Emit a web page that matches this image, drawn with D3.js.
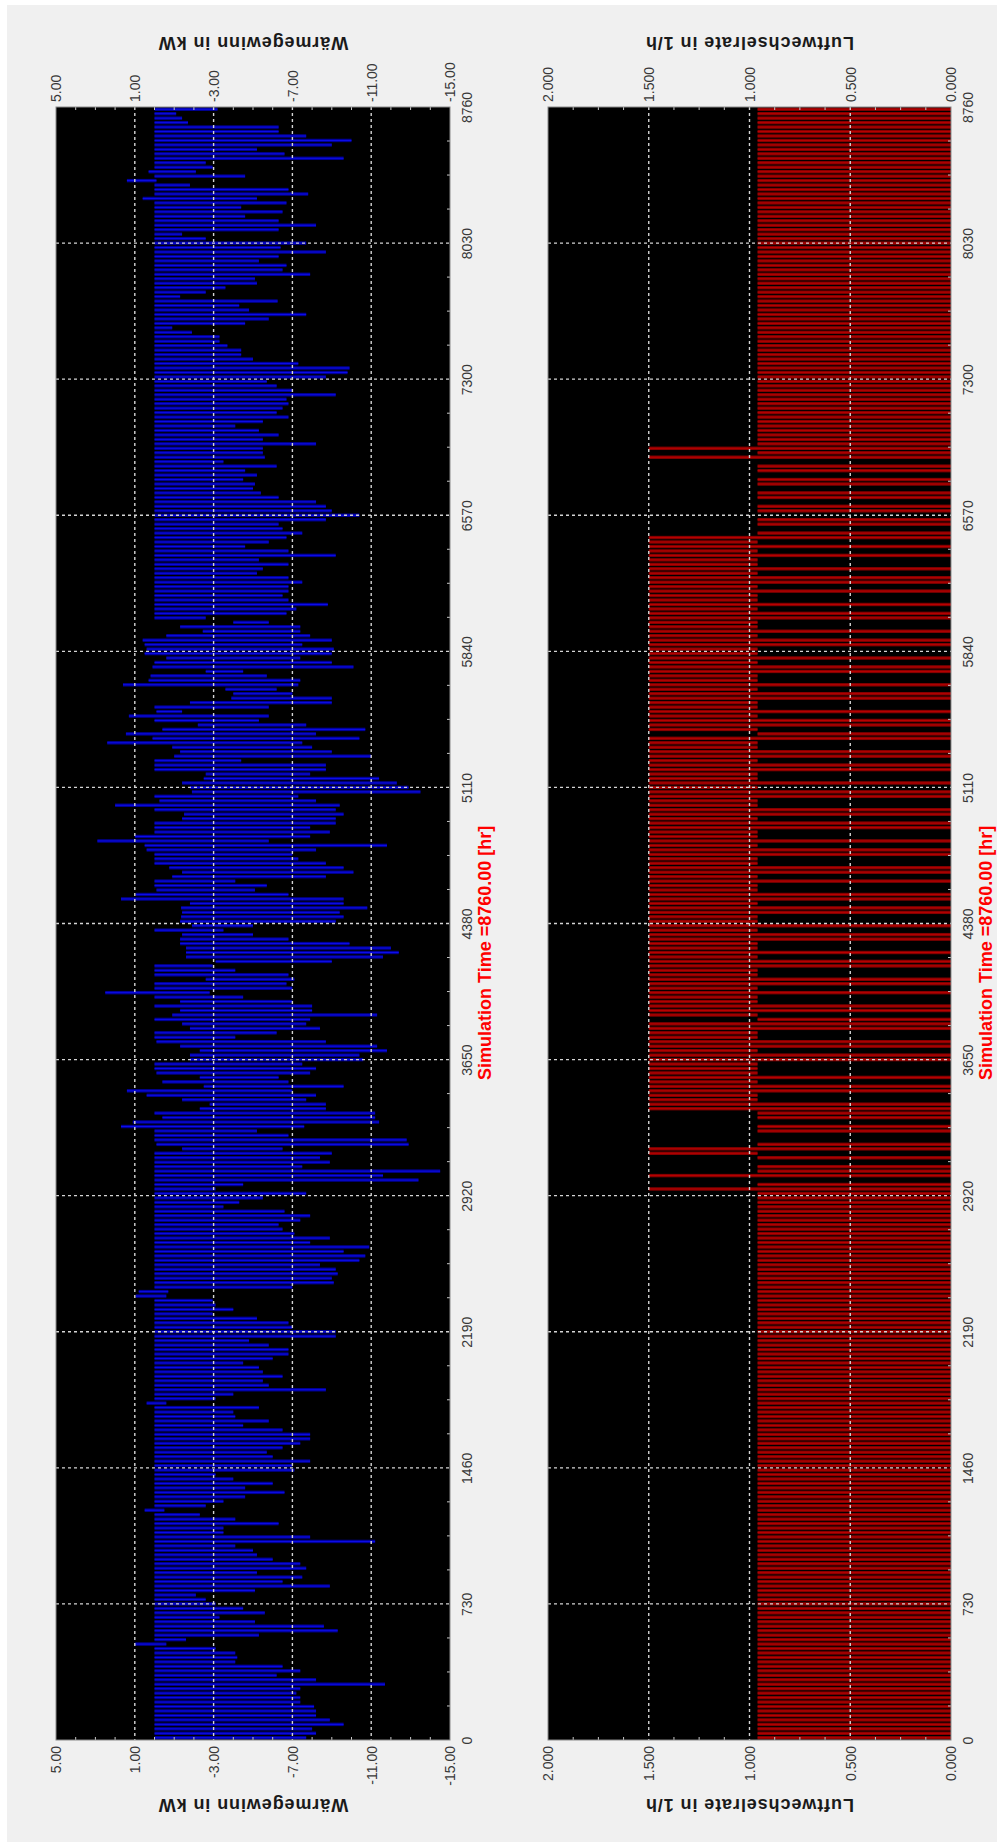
<!DOCTYPE html>
<html>
<head>
<meta charset="utf-8">
<script src="https://cdn.jsdelivr.net/npm/d3@7"></script>
<style>
  body { margin: 0; background: #fff; }
</style>
</head>
<body>
<div id="chart"></div>
<script>
// Achsen
const zeitTicks = [0, 730, 1460, 2190, 2920, 3650, 4380, 5110, 5840, 6570, 7300, 8030, 8760];
const waermeTicks = [5, 1, -3, -7, -11, -15];
const lwrTicks = [2, 1.5, 1, 0.5, 0];

// Wärmegewinn in kW, Tagesspanne (oberer / unterer Wert), je Quartal
const waermeMaxQ1 = [
  0,0,0,0,0,0,0,0,0,0, 0,0,0,0,0,0,0,0,0,0, 0,1.0,0,0,0,0,0,0,0,0,
  0,0,0,0,0,0,0,0,0,0, 0,0,0,0,0,0,0,0,0,0, 0,0.5,0,0,0,0,0,0,0,0,
  0,0,0,0,0,0,0,0,0,0, 0,0,0,0,0,0.4,0,0,0,0, 0,0,0,0,0,0,0,0,0,0, 0
];
const waermeMinQ1 = [
  -7.7,-8.2,-8.0,-9.6,-8.9,-8.2,-8.2,-8.1,-7.4,-7.4,
  -7.2,-7.4,-11.7,-8.2,-6.2,-7.4,-6.5,-4.1,-4.2,-4.1,
  -3.1,-0.6,-1.6,-5.3,-9.3,-8.6,-5.1,-3.3,-5.6,-4.5,
  -3.1,-2.6,-2.1,-5.1,-8.9,-6.5,-7.5,-5.2,-7.7,-7.4,
  -6.0,-5.2,-5.0,-4.1,-11.2,-7.9,-3.5,-3.5,-6.3,-4.1,
  -2.3,-0.5,-2.6,-3.5,-4.6,-6.6,-4.6,-6.0,-4.0,-3.1,
  -7.1,-7.0,-7.9,-6.0,-5.7,-6.5,-7.4,-7.9,-7.9,-6.5,
  -4.5,-5.8,-4.1,-4.0,-5.3,-0.6,-3.1,-4.0,-8.7,-5.8,
  -5.5,-6.5,-5.5,-5.3,-4.5,-6.0,-6.8,-6.8,-5.8,-4.8,
  -9.2
];
const waermeMaxQ2 = [
  0,0,0,0,0,0,0,0,0.95,0.8,
  0,0,0,0,0,0,0,0,0,0,
  0,0,0,0,0,0,0,0,0,0,
  0,0,0,0,0,0,0,0,0,0,
  0,-1.4,-0.1,0,0,0,1.7,1.1,-0.4,0,
  -2.3,-2.8,-1.4,0.4,1.4,-2.5,-0.4,-2.3,-0.1,0,
  0,-1.8,-1.8,-2.3,-1.3,-0.1,0,0,-1.8,-1.4,
  0,-0.9,-1.3,0,-1.3,0,2.5,0,0,-2.6,
  0,0,0,-3.1,-1.6,-1.6,-1.6,-1.3,-1.3,-1.4,
  0
];
const waermeMinQ2 = [
  -9.2,-7.0,-6.8,-5.2,-2.95,-4.0,-3.1,-2.95,-0.6,-0.7,
  -7.0,-9.1,-9.0,-9.3,-9.2,-8.4,-10.4,-10.7,-9.6,-10.9,
  -7.9,-8.9,-7.1,-6.5,-6.3,-7.4,-7.9,-6.6,-3.5,-4.3,
  -5.5,-7.7,-3.1,-4.5,-13.4,-11.6,-14.5,-7.5,-8.9,-8.4,
  -9.0,-6.5,-12.9,-12.8,-6.8,-5.2,-7.6,-11.4,-11.2,-11.2,
  -8.7,-8.7,-7.7,-8.2,-7.0,-9.6,-6.8,-6.3,-7.9,-8.2,
  -7.5,-10.6,-10.4,-11.8,-11.3,-8.7,-4.1,-6.2,-8.4,-7.7,
  -7.9,-11.3,-8.0,-8.0,-7.0,-4.5,-2.8,-7.0,-6.7,-7.1,
  -6.8,-4.1,-2.95,-9.0,-11.6,-12.4,-12.0,-9.9,-6.8,-5.0,
  -3.5
];
const waermeMaxQ3 = [
  -1.9,-1.3,-1.35,-1.4,-1.35,-1.8,1.7,0.95,-0.1,0,
  0,-0.9,-1.4,-0.75,0,0,0,0.4,0.5,2.9,
  1.0,0,0,0,-1.4,-1.5,0,2.0,-0.25,0,
  -1.9,-1.8,-1.4,-2.5,-2.6,0,0,0,-1.0,-1.3,
  -0.9,2.4,0.1,1.45,-0.4,-2.2,0,1.3,-0.1,0,
  -1.8,-3.9,-4.0,-3.6,1.6,0.3,0.2,-2.6,0.1,0,
  -0.6,0.5,0.4,0.5,0.6,-0.6,-2.45,-1.3,-4.0,0,
  0,0,0,0,0,0,0,0,0,0,
  0,0,0,0,0,0,0,0,0,0,
  0,0,0,0
];
const waermeMinQ3 = [
  -5.0,-9.2,-9.6,-9.4,-10.8,-9.6,-9.6,-6.8,-5.1,-5.7,
  -4.1,-8.7,-10.1,-9.6,-8.7,-7.3,-7.0,-8.2,-11.8,-5.8,
  -7.9,-8.9,-7.9,-9.2,-9.2,-9.6,-9.2,-9.4,-8.2,-7.3,
  -13.5,-12.9,-12.3,-11.4,-7.9,-8.7,-8.7,-4.4,-11.0,-9.0,
  -8.0,-7.5,-10.4,-8.2,-10.7,-7.7,-5.3,-5.8,-1.4,-5.8,
  -9.0,-9.0,-7.0,-6.2,-7.3,-7.4,-5.7,-4.5,-10.1,-9.0,
  -7.4,-9.0,-9.1,-7.5,-9.0,-7.9,-7.4,-7.4,-5.8,-2.6,
  -6.7,-7.2,-8.8,-6.8,-6.5,-6.8,-6.8,-7.5,-6.8,-5.2,
  -5.5,-6.8,-5.3,-9.2,-6.8,-4.6,-5.8,-6.7,-7.5,-6.5,
  -6.3,-8.7,-10.4,-9.0
];
const waermeMaxQ4 = [
  0,0,0,0,0,0,0,0,0,0, 0,0,0,0,0,0,0,0,0,0, 0,0,0,0,0,0,0,0,0,0,
  0,0,0,0,0,0,0,0,0,0, 0,0,0,0,0,0,0,0,0,0, 0,0,0,0,0,0,0,0,0,0,
  0,0,0,0,0,0,0,0,0,0.6, 0,0,0,1.4,0,0.3,0,0,0,0, 0,0,0,0,0,0,0,0,0,0
];
const waermeMinQ4 = [
  -8.7,-8.2,-6.3,-5.4,-5.0,-5.1,-4.5,-5.2,-4.6,-6.2,
  -3.5,-5.6,-5.5,-5.5,-8.2,-5.5,-6.3,-5.3,-4.1,-5.5,
  -6.8,-6.2,-6.5,-6.8,-6.7,-9.2,-7.0,-6.2,-5.7,-8.7,
  -9.8,-9.9,-7.3,-5.0,-4.4,-4.4,-3.7,-3.3,-3.3,-1.9,
  -0.9,-4.6,-5.8,-7.7,-4.8,-4.3,-6.25,-1.3,-2.6,-3.6,
  -5.2,-5.1,-7.9,-6.5,-6.7,-5.3,-6.3,-8.7,-6.4,-7.7,
  -2.6,-1.4,-6.3,-8.2,-6.3,-4.6,-6.5,-4.4,-6.7,-5.2,
  -7.8,-6.8,-1.8,-0.1,-4.6,-2.1,-2.95,-2.6,-9.6,-6.6,
  -5.2,-9.0,-10.0,-7.7,-6.3,-6.3,-1.7,-1.4,-1.1,-3.2
];

// Luftwechselrate in 1/h, Tagesspanne (oberer / unterer Wert), je Quartal
const lwrMaxQ1 = [
  0.96,0.96,0.96,0.96,0.96,0.96,0.96,0.96,0.96,0.96, 0.96,0.96,0.96,0.96,0.96,0.96,0.96,0.96,0.96,0.96,
  0.96,0.96,0.96,0.96,0.96,0.96,0.96,0.96,0.96,0.96, 0.96,0.96,0.96,0.96,0.96,0.96,0.96,0.96,0.96,0.96,
  0.96,0.96,0.96,0.96,0.96,0.96,0.96,0.96,0.96,0.96, 0.96,0.96,0.96,0.96,0.96,0.96,0.96,0.96,0.96,0.96,
  0.96,0.96,0.96,0.96,0.96,0.96,0.96,0.96,0.96,0.96, 0.96,0.96,0.96,0.96,0.96,0.96,0.96,0.96,0.96,0.96,
  0.96,0.96,0.96,0.96,0.96,0.96,0.96,0.96,0.96,0.96, 0.96
];
const lwrMinQ1 = [
  0,0,0,0,0,0,0,0,0,0, 0,0,0,0,0,0,0,0,0,0, 0,0,0,0,0,0,0,0,0,0,
  0,0,0,0,0,0,0,0,0,0, 0,0,0,0,0,0,0,0,0,0, 0,0,0,0,0,0,0,0,0,0,
  0,0,0,0,0,0,0,0,0,0, 0,0,0,0,0,0,0,0,0,0, 0,0,0,0,0,0,0,0,0,0, 0
];
const lwrMaxQ2 = [
  0.96,0.96,0.96,0.96,0.96,0.96,0.96,0.96,0.96,0.96,
  0.96,0.96,0.96,0.96,0.96,0.96,0.96,0.96,0.96,0.96,
  0.96,0.96,0.96,0.96,0.96,0.96,0.96,0.96,0.96,0.96,
  0.96,0.96,1.5,0.96,0,1.5,0.96,0.96,0,0.96,
  1.5,1.5,0.96,0,0,0.96,0.96,0,0.96,0.96,
  1.5,1.5,1.5,1.5,1.5,1.5,1.5,1.5,1.5,1.5,
  1.5,1.5,1.5,1.5,1.5,1.5,1.5,1.5,1.5,1.5,
  0.96,1.5,1.5,1.5,1.5,1.5,1.5,1.5,1.5,1.5,
  1.5,1.5,1.5,1.5,1.5,1.5,1.5,1.5,1.5,1.5,
  1.5
];
const lwrMinQ2 = [
  0,0,0,0,0,0,0,0,0,0,
  0,0,0,0,0,0,0,0,0,0,
  0,0,0,0,0,0,0,0,0,0,
  0,0,0,0,0,0,0,0,0,0,
  0.96,0,0,0,0,0,0,0,0,0,
  0,0,0.96,0.96,0,0,0.96,0,0.96,0.96,
  0.96,0,0,0.96,0,0,0.96,0.96,0,0,
  0,0.96,0,0,0.96,0.96,0,0.96,0,0,
  0.96,0.96,0,0,0.96,0,0.96,0.96,0,0,
  0.96
];
const lwrMaxQ3 = [
  1.5,1.5,1.5,1.5,1.5,1.5,1.5,1.5,1.5,1.5,
  1.5,1.5,1.5,1.5,1.5,1.5,1.5,1.5,1.5,1.5,
  1.5,1.5,1.5,1.5,1.5,1.5,1.5,1.5,1.5,1.5,
  1.5,1.5,1.5,1.5,1.5,1.5,1.5,1.5,1.5,1.5,
  1.5,1.5,1.5,0.96,1.5,1.5,1.5,1.5,1.5,1.5,
  1.5,1.5,1.5,1.5,1.5,1.5,1.5,1.5,1.5,1.5,
  1.5,1.5,1.5,1.5,1.5,1.5,1.5,1.5,1.5,1.5,
  1.5,1.5,1.5,1.5,1.5,1.5,1.5,1.5,1.5,1.5,
  1.5,1.5,1.5,1.5,1.5,1.5,1.5,1.5,0.96,0,
  0.96,0.96,0,0.96
];
const lwrMinQ3 = [
  0,0.96,0.96,0,0,0.96,0,0,0.96,0.96,
  0,0.96,0,0,0.96,0.96,0,0,0.96,0,
  0.96,0.96,0,0,0.96,0,0,0.96,0.96,0,
  0,0.96,0,0.96,0.96,0,0,0.96,0,0,
  0.96,0.96,0,0,0.96,0,0,0.96,0,0.96,
  0.96,0,0,0.96,0,0.96,0.96,0,0,0.96,
  0,0.96,0.96,0,0,0.96,0,0.96,0.96,0,
  0,0.96,0,0.96,0.96,0,0.96,0,0,0.96,
  0,0.96,0.96,0,0.96,0,0.96,0,0,0,
  0,0,0,0
];
const lwrMaxQ4 = [
  0.96,0,0.96,0.96,0,0.96,0.96,0,0.96,0.96,
  0,1.5,0.96,1.5,0.96,0.96,0.96,0.96,0.96,0.96,
  0.96,0.96,0.96,0.96,0.96,0.96,0.96,0.96,0.96,0.96,
  0.96,0.96,0.96,0.96,0.96,0.96,0.96,0.96,0.96,0.96,
  0.96,0.96,0.96,0.96,0.96,0.96,0.96,0.96,0.96,0.96,
  0.96,0.96,0.96,0.96,0.96,0.96,0.96,0.96,0.96,0.96,
  0.96,0.96,0.96,0.96,0.96,0.96,0.96,0.96,0.96,0.96,
  0.96,0.96,0.96,0.96,0.96,0.96,0.96,0.96,0.96,0.96,
  0.96,0.96,0.96,0.96,0.96,0.96,0.96,0.96,0.96,0.96
];
const lwrMinQ4 = [
  0,0,0,0,0,0,0,0,0,0, 0,0,0,0,0,0,0,0,0,0, 0,0,0,0,0,0,0,0,0,0,
  0,0,0,0,0,0,0,0,0,0, 0,0,0,0,0,0,0,0,0,0, 0,0,0,0,0,0,0,0,0,0,
  0,0,0,0,0,0,0,0,0,0, 0,0,0,0,0,0,0,0,0,0, 0,0,0,0,0,0,0,0,0,0
];

const waermeMax = [...waermeMaxQ1, ...waermeMaxQ2, ...waermeMaxQ3, ...waermeMaxQ4];
const waermeMin = [...waermeMinQ1, ...waermeMinQ2, ...waermeMinQ3, ...waermeMinQ4];
const lwrMax = [...lwrMaxQ1, ...lwrMaxQ2, ...lwrMaxQ3, ...lwrMaxQ4];
const lwrMin = [...lwrMinQ1, ...lwrMinQ2, ...lwrMinQ3, ...lwrMinQ4];

const FONT = "'Liberation Sans', Arial, sans-serif";
const W = 997, H = 1842;
const plotTop = 107, plotBottom = 1740;

const svg = d3.select("#chart").append("svg")
    .attr("width", W)
    .attr("height", H)
    .style("font-family", FONT);

svg.append("rect").attr("width", W).attr("height", H).attr("fill", "#ffffff");
svg.append("rect").attr("x", 7).attr("y", 5).attr("width", W - 7).attr("height", H - 5).attr("fill", "#f0f0f0");

// Zeitachse (gemeinsam, 0 unten, 8760 oben)
const y = d3.scaleLinear().domain([0, 8760]).range([plotBottom, plotTop]);
const slotHour = (i, n) => (i + 0.5) * 8760 / n;

function drawPanel(cfg) {
    const x = d3.scaleLinear().domain(cfg.domain).range([cfg.left, cfg.right]);
    const g = svg.append("g");

    // Plotfläche
    g.append("rect")
        .attr("x", cfg.left).attr("y", plotTop)
        .attr("width", cfg.right - cfg.left).attr("height", plotBottom - plotTop)
        .attr("fill", "#000");

    const rows = cfg.hi.map((hi, i) => ({ t: slotHour(i, cfg.hi.length), hi: hi, lo: cfg.lo[i] }))
        .filter(d => d.hi !== d.lo);

    // Tagesspannen
    g.selectAll("rect.span").data(rows).join("rect")
        .attr("class", "span")
        .attr("x", d => Math.min(x(d.lo), x(d.hi)))
        .attr("width", d => Math.abs(x(d.lo) - x(d.hi)))
        .attr("y", d => y(d.t) - 1.7)
        .attr("height", 3.4)
        .attr("fill", cfg.dark);

    g.selectAll("line.peak").data(rows).join("line")
        .attr("class", "peak")
        .attr("x1", d => x(d.lo)).attr("x2", d => x(d.hi))
        .attr("y1", d => y(d.t)).attr("y2", d => y(d.t))
        .attr("stroke", cfg.bright)
        .attr("stroke-width", 0.8);

    // Gitterlinien
    const grid = g.append("g")
        .attr("stroke", "#d4d4d4")
        .attr("stroke-width", 1.4)
        .attr("stroke-dasharray", "3,3");
    grid.selectAll("line.v").data(cfg.ticks.slice(1, -1)).join("line")
        .attr("x1", d => x(d)).attr("x2", d => x(d))
        .attr("y1", plotTop).attr("y2", plotBottom);
    grid.selectAll("line.h").data(zeitTicks.slice(1, -1)).join("line")
        .attr("x1", cfg.left).attr("x2", cfg.right)
        .attr("y1", d => y(d)).attr("y2", d => y(d));

    // kleine Teilstriche
    const minor = g.append("g").attr("stroke", "#c8c8c8").attr("stroke-width", 1);
    minor.selectAll("line.mt").data(cfg.minor).join("line")
        .attr("x1", d => x(d)).attr("x2", d => x(d))
        .attr("y1", plotTop).attr("y2", plotTop + 3);
    minor.selectAll("line.mb").data(cfg.minor).join("line")
        .attr("x1", d => x(d)).attr("x2", d => x(d))
        .attr("y1", plotBottom - 3).attr("y2", plotBottom);
    minor.selectAll("line.mr").data(d3.range(182.5, 8760, 182.5).filter(t => t % 730 !== 0)).join("line")
        .attr("x1", cfg.right - 3).attr("x2", cfg.right)
        .attr("y1", d => y(d)).attr("y2", d => y(d));

    g.append("rect")
        .attr("x", cfg.left).attr("y", plotTop)
        .attr("width", cfg.right - cfg.left).attr("height", plotBottom - plotTop)
        .attr("fill", "none").attr("stroke", "#8a8a8a").attr("stroke-width", 1);

    // Achsenbeschriftung Werte (oben / unten)
    const axTop = g.append("g")
        .attr("transform", `translate(0,${plotTop})`)
        .call(d3.axisTop(x).tickValues(cfg.ticks).tickSize(0).tickFormat(cfg.fmt));
    axTop.attr("font-size", 14).attr("font-family", FONT);
    axTop.select(".domain").remove();
    axTop.selectAll("text")
        .attr("transform", "rotate(-90)")
        .attr("x", 5).attr("y", 0).attr("dy", "0.35em")
        .attr("text-anchor", "start")
        .attr("fill", "#383838");

    const axBottom = g.append("g")
        .attr("transform", `translate(0,${plotBottom})`)
        .call(d3.axisBottom(x).tickValues(cfg.ticks).tickSize(0).tickFormat(cfg.fmt));
    axBottom.attr("font-size", 14).attr("font-family", FONT);
    axBottom.select(".domain").remove();
    axBottom.selectAll("text")
        .attr("transform", "rotate(-90)")
        .attr("x", -6).attr("y", 0).attr("dy", "0.35em")
        .attr("text-anchor", "end")
        .attr("fill", "#383838");

    // Zeitachse rechts
    const axRight = g.append("g")
        .attr("transform", `translate(${cfg.right},0)`)
        .call(d3.axisRight(y).tickValues(zeitTicks).tickSize(0).tickFormat(d3.format("d")));
    axRight.attr("font-size", 14).attr("font-family", FONT);
    axRight.select(".domain").remove();
    axRight.selectAll("text")
        .attr("transform", "rotate(-90)")
        .attr("x", 0).attr("y", 22).attr("dy", 0)
        .attr("text-anchor", "middle")
        .attr("fill", "#383838");

    // Achsentitel (kopfstehend)
    const cx = (cfg.left + cfg.right) / 2;
    [37, 1799].forEach(by => {
        g.append("text")
            .attr("transform", `translate(${cx},${by}) rotate(180)`)
            .attr("text-anchor", "middle")
            .attr("font-size", 18)
            .attr("font-weight", "bold")
            .attr("letter-spacing", 0.9)
            .attr("fill", "#1a1a1a")
            .text(cfg.title);
    });

    // Simulationszeit
    g.append("text")
        .attr("transform", `translate(${cfg.right + 41},1080) rotate(-90)`)
        .attr("text-anchor", "start")
        .attr("font-size", 18)
        .attr("font-weight", "bold")
        .attr("fill", "#ff0000")
        .text("Simulation Time =8760.00 [hr]");
}

drawPanel({
    left: 56, right: 450,
    domain: [5, -15],
    ticks: waermeTicks,
    minor: d3.range(4, -15, -1).filter(v => !waermeTicks.includes(v)),
    fmt: v => v.toFixed(2),
    hi: waermeMax, lo: waermeMin,
    dark: "#00009a", bright: "#1010ff",
    title: "Wärmegewinn in kW"
});

drawPanel({
    left: 548, right: 951,
    domain: [2, 0],
    ticks: lwrTicks,
    minor: d3.range(1.875, 0, -0.125).filter(v => !lwrTicks.includes(v)),
    fmt: v => v.toFixed(3),
    hi: lwrMax, lo: lwrMin,
    dark: "#860000", bright: "#c80000",
    title: "Luftwechselrate in 1/h"
});
</script>
</body>
</html>
